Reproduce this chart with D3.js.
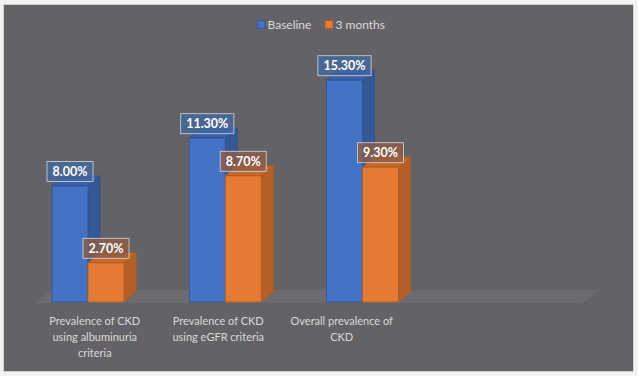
<!DOCTYPE html>
<html>
<head>
<meta charset="utf-8">
<script src="https://cdn.jsdelivr.net/npm/d3@7"></script>
<style>
  body { margin: 0; background: #f2f2f2; }
  svg { display: block; }
</style>
</head>
<body>
<div id="chart"></div>
<script>
// data
const categories = ['Prevalence of CKD using albuminuria criteria', 'Prevalence of CKD using eGFR criteria', 'Overall prevalence of CKD']
const categoryLines = [['Prevalence of CKD', 'using albuminuria', 'criteria'], ['Prevalence of CKD', 'using eGFR criteria'], ['Overall prevalence of', 'CKD']]
const seriesNames = ['Baseline', '3 months']
const baseline = [8.0, 11.3, 15.3]
const threeMonths = [2.7, 8.7, 9.3]

const colors = {
    'Baseline': { front: '#4472c4', top: '#3b62a8', side: '#345894', edge: '#2f528f', box: '#44679f' },
    '3 months': { front: '#e57b33', top: '#c6692b', side: '#b35f27', edge: '#ae5a21', box: '#8e5d45' }
}

const width = 638, height = 376
const depth = { dx: 12, dy: -10 }

const svg = d3.select('#chart').append('svg')
    .attr('width', width)
    .attr('height', height)

svg.append('rect')
    .attr('x', 0).attr('y', 0)
    .attr('width', width).attr('height', height)
    .attr('fill', '#f2f2f2')

svg.append('rect')
    .attr('x', 3.5).attr('y', 4.5)
    .attr('width', 630).attr('height', 367)
    .attr('fill', '#636367')
    .attr('stroke', '#d0d0d0')
    .attr('stroke-width', 1)

// scales
const slots = d3.range(categories.length + 1)
const x0 = d3.scaleBand().domain(slots).range([37, 586])
const x1 = d3.scaleBand().domain(seriesNames).range([15, 87])
const y = d3.scaleLinear().domain([0, 16]).range([302, 70])
const xLabel = d3.scaleBand().domain(slots).range([33, 527])

// floor
const fl = x0.range()[0] - 2, fr = x0.range()[1] - 3, fy = y(0) + 1
svg.append('path')
    .attr('d', `M${fl},${fy} L${fr},${fy} L${fr + 17},${fy - 13} L${fl + 17},${fy - 13} Z`)
    .attr('fill', '#6c6c70')

// legend
const legend = svg.append('g').attr('transform', 'translate(257, 21)')
const legendX = [0, 68]
seriesNames.forEach((name, i) => {
    const g = legend.append('g').attr('transform', `translate(${legendX[i]}, 0)`)
    g.append('rect')
        .attr('y', -0.5)
        .attr('width', 8).attr('height', 8)
        .attr('fill', colors[name].front)
        .attr('stroke', colors[name].edge)
        .attr('stroke-width', 0.8)
    g.append('text')
        .text(name)
        .attr('x', 10.5)
        .attr('y', 7.5)
        .attr('fill', '#d9d9d9')
        .style('font-family', 'Lato, sans-serif')
        .style('font-size', '12px')
})

// bars
const rows = []
categories.forEach((c, i) => {
    rows.push({ cat: i, series: 'Baseline', value: baseline[i] })
    rows.push({ cat: i, series: '3 months', value: threeMonths[i] })
})

const bars = svg.append('g').attr('class', 'bars')
rows.forEach((d) => {
    const c = colors[d.series]
    const xa = x0(d.cat) + x1(d.series)
    const xb = xa + x1.bandwidth()
    const yt = y(d.value), yb = y(0)
    const g = bars.append('g')
    g.append('path')
        .attr('d', `M${xb},${yt} L${xb + depth.dx},${yt + depth.dy} L${xb + depth.dx},${yb + depth.dy} L${xb},${yb} Z`)
        .attr('fill', c.side).attr('stroke', c.edge).attr('stroke-width', 0.8)
    g.append('path')
        .attr('d', `M${xa},${yt} L${xa + depth.dx},${yt + depth.dy} L${xb + depth.dx},${yt + depth.dy} L${xb},${yt} Z`)
        .attr('fill', c.top).attr('stroke', c.edge).attr('stroke-width', 0.8)
    g.append('rect')
        .attr('x', xa).attr('y', yt)
        .attr('width', x1.bandwidth()).attr('height', yb - yt)
        .attr('fill', c.front).attr('stroke', c.edge).attr('stroke-width', 0.8)
})

// data labels
const labels = svg.append('g').attr('class', 'labels')
rows.forEach((d) => {
    const cx = x0(d.cat) + x1(d.series) + x1.bandwidth() / 2
    const cy = y(d.value) - 14.5
    const g = labels.append('g').attr('transform', `translate(${cx}, ${cy})`)
    const box = g.append('rect')
    const t = g.append('text')
        .text(d.value.toFixed(2) + '%')
        .attr('text-anchor', 'middle')
        .attr('dy', '0.36em')
        .attr('fill', '#ffffff')
        .style('font-family', 'Lato, sans-serif')
        .style('font-weight', 'bold')
        .style('font-size', '12.5px')
    const w = t.node().getComputedTextLength() + 11
    box.attr('x', -w / 2).attr('y', -10)
        .attr('width', w).attr('height', 20)
        .attr('fill', colors[d.series].box)
        .attr('fill-opacity', 0.8)
        .attr('stroke', '#d4d8de')
        .attr('stroke-opacity', 0.8)
        .attr('stroke-width', 1)
})

// category labels
const axis = svg.append('g').attr('class', 'x-labels')
categories.forEach((c, i) => {
    const t = axis.append('text')
        .attr('text-anchor', 'middle')
        .attr('fill', '#d9d9d9')
        .style('font-family', 'Lato, sans-serif')
        .style('font-size', '11px')
    categoryLines[i].forEach((line, j) => {
        t.append('tspan')
            .attr('x', xLabel(i) + xLabel.bandwidth() / 2)
            .attr('y', 325 + j * 16)
            .text(line)
    })
})
</script>
</body>
</html>
